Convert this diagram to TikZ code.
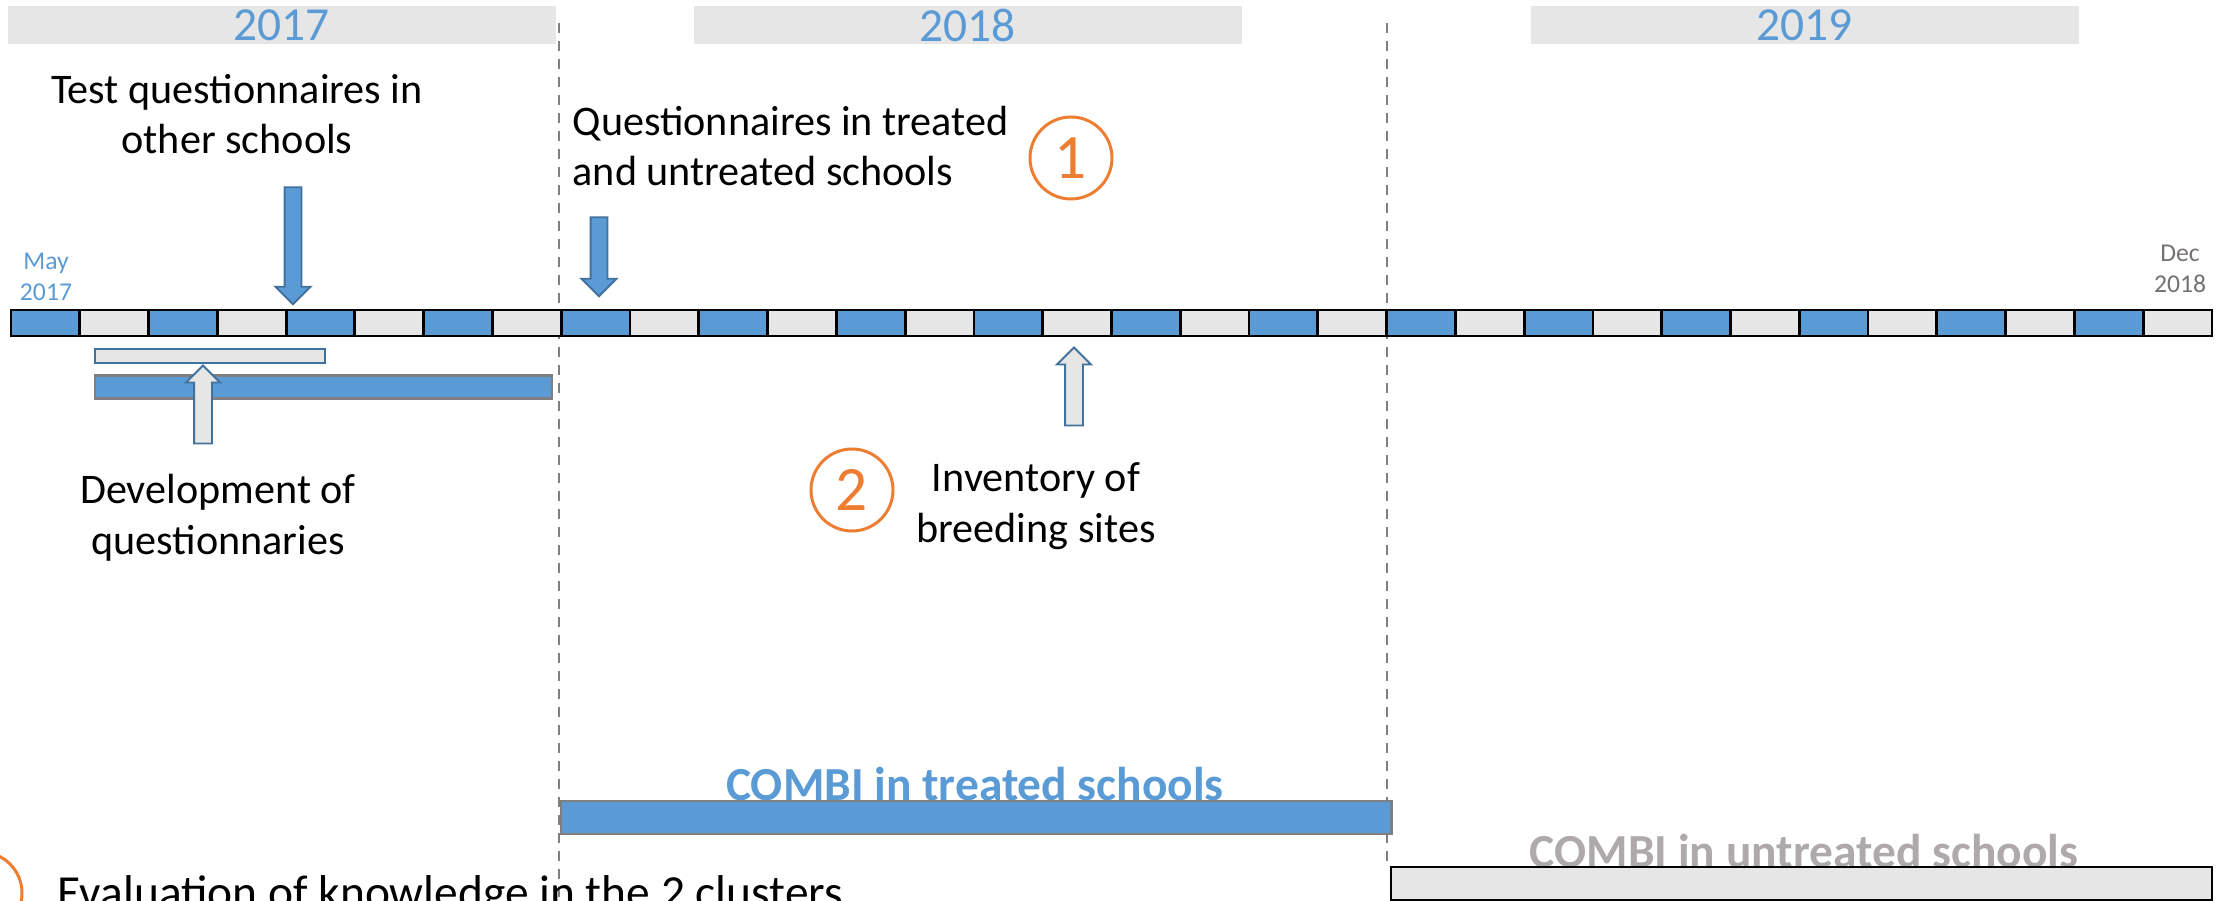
\documentclass[tikz,border=0pt]{standalone}
\usepackage{fontspec}
\setmainfont{Carlito}
\usepackage{tikz}
\usetikzlibrary{shapes.arrows}

\definecolor{tlblue}{HTML}{5B9BD5}
\definecolor{tlgray}{HTML}{E7E6E6}
\definecolor{edgeblue}{HTML}{41719C}
\definecolor{markorange}{HTML}{ED7D31}
\definecolor{linegray}{HTML}{7F7F7F}
\definecolor{combigray}{HTML}{AEAAAA}
\definecolor{decgray}{HTML}{767171}

\tikzset{
    yearbar/.style={fill=tlgray, minimum width=54.8mm, minimum height=3.8mm, inner sep=0pt, text=tlblue, font=\fontsize{13.5}{16}\selectfont},
    yearsep/.style={draw=linegray, line width=0.55pt, dash pattern=on 1mm off 0.8mm},
    month/.style={draw=black, line width=0.8pt, minimum width=6.878mm, minimum height=2.6mm, inner sep=0pt},
    datelabel/.style={align=center, inner sep=0pt, font=\fontsize{7.3}{8.8}\selectfont},
    note/.style={align=center, inner sep=0pt, font=\fontsize{12}{14.4}\selectfont},
    numcircle/.style={circle, draw=markorange, line width=0.85pt, minimum size=8.2mm, inner sep=0pt, text=markorange, font=\fontsize{18}{20}\selectfont},
    downarrow/.style={single arrow, rotate=-90, draw=edgeblue, fill=tlblue, line width=0.55pt, inner xsep=0pt, inner ysep=0.75mm, minimum width=0pt, single arrow head extend=0.9mm},
    uparrow/.style={single arrow, rotate=90, draw=edgeblue, fill=tlgray, line width=0.55pt, inner xsep=0pt, inner ysep=0.8mm, minimum width=0pt, single arrow head extend=0.8mm},
    combi/.style={anchor=base, inner sep=0pt, font=\fontsize{13.5}{16}\selectfont\bfseries},
}

\begin{document}
\begin{tikzpicture}[x=0.1mm, y=-0.1mm]
        \clip (0,0) rectangle (2226,901);
        % years
        \node[yearbar] at (281.5,25) (y2017) {2017};
        \node[yearbar] at (967.5,25) (y2018) {2018};
        \node[yearbar] at (1804.5,25) (y2019) {2019};
        \draw[yearsep] (559,23) -- (559,901);
        \draw[yearsep] (1387,23) -- (1387,866);
        % months
        \foreach \i in {0,...,31} {
            \pgfmathsetmacro\mx{45.39+68.78*\i}
            \ifodd\i \def\mfill{tlgray}\else \def\mfill{tlblue}\fi
            \node[month, fill=\mfill] at (\mx,323) (m\i) {};
        }
        \node[datelabel, text=tlblue] at (46,277) (may) {May\\2017};
        \node[datelabel, text=decgray] at (2180,269) (dec) {Dec\\2018};
        % events above
        \node[note] at (237,114) (testq) {Test questionnaires in\\other schools};
        \node[downarrow, minimum height=11.7mm] at (293,241.5) (testarrow) {};
        \node[note, anchor=west, align=left] at (572,146) (schoolq) {Questionnaires in treated\\and untreated schools};
        \node[downarrow, minimum height=7.9mm] at (599,252.5) (schoolarrow) {};
        \node[numcircle] at (1071,158) (c1) {1};
        % events below
        \draw[draw=edgeblue, fill=tlgray, line width=0.55pt] (95,349) rectangle (325,363);
        \draw[draw=linegray, fill=tlblue, line width=0.85pt] (95,376) rectangle (552,399);
        \node[uparrow, minimum height=7.8mm] at (203,409) (devarrow) {};
        \node[note] at (218,518) (devq) {Development of\\questionnaries};
        \node[uparrow, minimum height=7.8mm] at (1074,391) (sitearrow) {};
        \node[numcircle] at (852,490) (c2) {2};
        \node[note] at (1036,506) (sites) {Inventory of\\breeding sites};
        % COMBI
        \node[combi, text=tlblue] at (975,801) (treated) {COMBI in treated schools};
        \draw[draw=linegray, fill=tlblue, line width=0.85pt] (561,801) rectangle (1391,834);
        \node[combi, text=combigray] at (1804,868) (untreated) {COMBI in untreated schools};
        \draw[draw=black, fill=tlgray, line width=0.7pt] (1391,867) rectangle (2212,900);
        % evaluation
        \node[numcircle] at (-19,893) (c3) {};
        \node[note, anchor=base west, font=\fontsize{13.5}{16}\selectfont] at (57,909) (evalnote) {Evaluation of knowledge in the 2 clusters};
    \end{tikzpicture}
\end{document}
